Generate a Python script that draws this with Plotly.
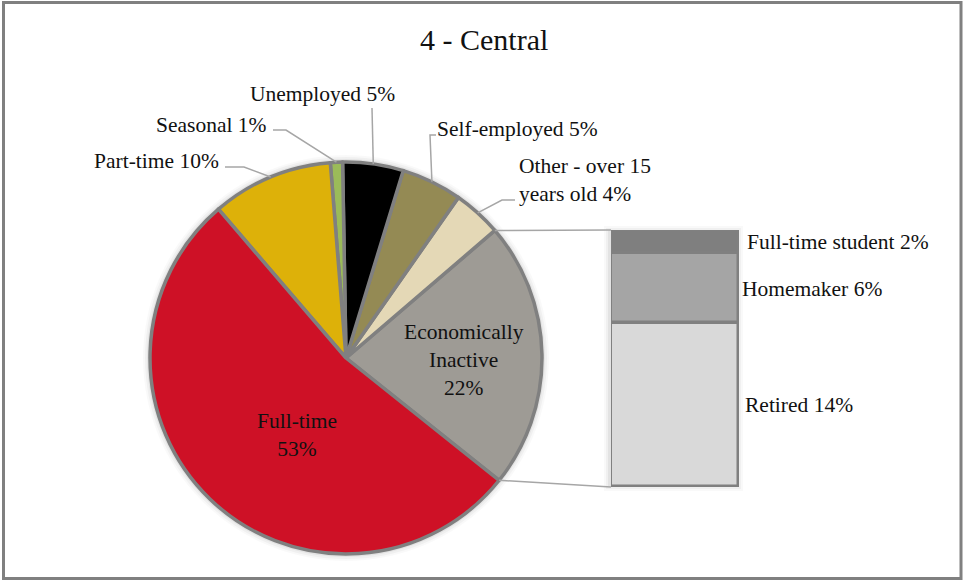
import math
import plotly.graph_objects as go

W, H = 964, 582

# Employment status shares (%), listed counterclockwise from the exploded slice
pie_labels = ["Economically Inactive", "Other - over 15 years old", "Self-employed",
              "Unemployed", "Seasonal", "Part-time", "Full-time"]
pie_values = [22, 4, 5, 5, 1, 10, 53]
pie_colors = ["#9E9B95", "#E4D8B6", "#948A54", "#000000", "#9BBB59", "#DDB109", "#CE1126"]

# Breakdown of the economically inactive share, bottom to top
bar_labels = ["Retired", "Homemaker", "Full-time student"]
bar_values = [14, 6, 2]
bar_colors = ["#D9D9D9", "#A5A5A5", "#7F7F7F"]

TITLE = "4 - Central"
FONT = "Liberation Serif"
LINE = "#A6A6A6"
EDGE = "#808080"


def px(x):
    return x / W


def py(y):
    return 1 - y / H


# pie geometry in pixels
CX, CY, R = 346, 358, 196
TILT = 1.0
start_angle = -pie_values[0] * 1.8 + TILT  # math degrees of the first slice's start


def slice_point(i, frac=0.5):
    before = sum(pie_values[:i])
    a = math.radians(start_angle + (before + pie_values[i] * frac) * 3.6)
    return CX + R * math.cos(a), CY - R * math.sin(a)


fig = go.Figure()

# plotly's rotation marks the clockwise-from-12 angle where the first slice ends
first_end = start_angle + pie_values[0] * 3.6
fig.add_trace(go.Pie(
    labels=pie_labels, values=pie_values, sort=False,
    direction="counterclockwise",
    rotation=90 - first_end,
    marker=dict(colors=pie_colors, line=dict(color=EDGE, width=3.5)),
    textinfo="none", hoverinfo="label+percent", showlegend=False,
    domain=dict(x=[px(CX - R), px(CX + R)], y=[py(CY + R), py(CY - R)]),
))

# stacked bar for the inactive breakdown
base = 0
for lab, val, col in zip(bar_labels, bar_values, bar_colors):
    fig.add_trace(go.Bar(
        x=[0], y=[val], base=[base], width=1, name=lab,
        marker=dict(color=col, line=dict(color=EDGE, width=3.5)),
        showlegend=False, hoverinfo="name+y", xaxis="x", yaxis="y",
    ))
    base += val

BX0, BX1, BY0, BY1 = 611, 739, 230, 487
shapes = []

# soft shadow around the pie and bar
for k, a in [(7, 0.025), (5, 0.035), (3, 0.05)]:
    shapes.append(dict(type="circle", xref="paper", yref="paper", layer="below",
                       x0=px(CX - R - k), x1=px(CX + R + k),
                       y0=py(CY + R + k), y1=py(CY - R - k),
                       line=dict(width=0), fillcolor=f"rgba(0,0,0,{a})"))
    shapes.append(dict(type="rect", xref="paper", yref="paper", layer="below",
                       x0=px(BX0 - k), x1=px(BX1 + k - 3),
                       y0=py(BY1 + k - 3), y1=py(BY0 - k + 3),
                       line=dict(width=0), fillcolor=f"rgba(0,0,0,{a})"))

# outer frame
shapes.append(dict(type="rect", xref="paper", yref="paper",
                   x0=px(3.5), x1=px(961), y0=py(578.5), y1=py(2.5),
                   line=dict(color="#808080", width=3)))

# connectors from the exploded slice to the bar
top_pt = slice_point(0, 1.0)
bot_pt = slice_point(0, 0.0)
for (x0, y0), (x1, y1) in [(top_pt, (BX0, BY0)), (bot_pt, (BX0, BY1))]:
    shapes.append(dict(type="line", xref="paper", yref="paper",
                       x0=px(x0), y0=py(y0), x1=px(x1), y1=py(y1),
                       line=dict(color=LINE, width=1.5)))

# leader lines: fixed elbow points, ending at each slice's mid-arc
leaders = {
    1: [(515, 200), (502, 200)],
    2: [(436, 135), (430, 135)],
    3: [(372, 108)],
    4: [(273, 130), (286, 130)],
    5: [(225, 167), (244, 167)],
}
for i, pts in leaders.items():
    pts = pts + [slice_point(i)]
    path = "M " + " L ".join(f"{px(x)},{py(y)}" for x, y in pts)
    shapes.append(dict(type="path", xref="paper", yref="paper", path=path,
                       line=dict(color=LINE, width=1.5)))

annotations = []


def label(text, x, y, xanchor="center", size=21.5, align="center"):
    annotations.append(dict(text=text, x=px(x), y=py(y), xref="paper", yref="paper",
                            xanchor=xanchor, yanchor="middle", showarrow=False,
                            align=align, font=dict(family=FONT, size=size, color="#111111")))


label(TITLE, 484, 40, size=30)

# pie labels
label(f"Full-time<br>{pie_values[6]}%", 297, 435)
label(f"Economically<br>Inactive<br>{pie_values[0]}%", 464, 360)
label(f"Part-time {pie_values[5]}%", 221, 161, xanchor="right")
label(f"Seasonal {pie_values[4]}%", 269, 125, xanchor="right")
label(f"Unemployed {pie_values[3]}%", 322, 94)
label(f"Self-employed {pie_values[2]}%", 435, 129, xanchor="left")
label(f"Other - over 15<br>years old {pie_values[1]}%", 517, 180, xanchor="left", align="left")

# bar labels
label(f"{bar_labels[2]} {bar_values[2]}%", 745, 242, xanchor="left")
label(f"{bar_labels[1]} {bar_values[1]}%", 740, 289, xanchor="left")
label(f"{bar_labels[0]} {bar_values[0]}%", 743, 405, xanchor="left")

fig.update_layout(
    width=W, height=H,
    margin=dict(l=0, r=0, t=0, b=0),
    paper_bgcolor="white", plot_bgcolor="rgba(0,0,0,0)",
    barmode="overlay", bargap=0,
    xaxis=dict(domain=[px(BX0), px(BX1)], range=[-0.5, 0.5], visible=False, fixedrange=True),
    yaxis=dict(domain=[py(BY1), py(BY0)], range=[0, sum(bar_values)], visible=False, fixedrange=True),
    shapes=shapes, annotations=annotations,
)

fig.write_html("out.html")
